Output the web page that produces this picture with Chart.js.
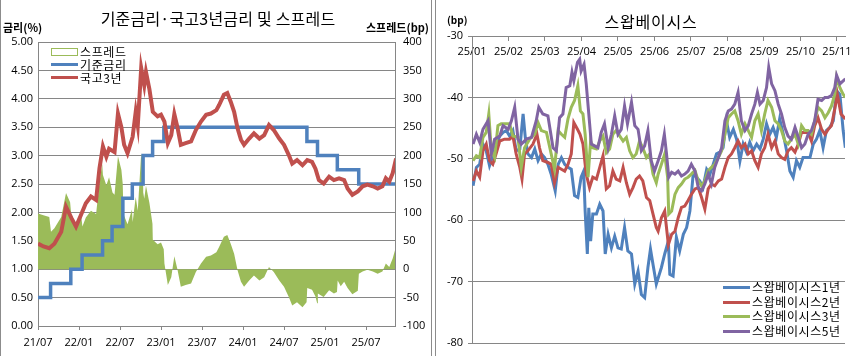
<!DOCTYPE html>
<html><head><meta charset="utf-8">
<script src="https://cdn.jsdelivr.net/npm/chart.js@4.4.0/dist/chart.umd.min.js"></script>
<style>
html,body{margin:0;padding:0;background:#fff}
body{width:867px;height:356px;overflow:hidden;position:relative;font-family:"Noto Sans CJK KR",sans-serif;color:#000}
canvas{position:absolute;top:0}
#c1{left:0}
#c2{left:436px}
.t{position:absolute;line-height:1;white-space:nowrap;transform:translateY(-50%)}
.tc{position:absolute;line-height:1;white-space:nowrap;transform:translate(-50%,-50%)}
.sw{position:absolute}
.vl{position:absolute;top:0;width:1px;height:356px;background:#8c8c8c}
.lg{font-size:12px;letter-spacing:0.6px}
</style></head><body>
<canvas id="c1" width="430" height="356"></canvas>
<canvas id="c2" width="431" height="356"></canvas>

<div class="vl" style="left:0"></div>
<div class="vl" style="left:431px"></div>
<div class="vl" style="left:435px"></div>

<div class="tc" style="left:218px;top:18px;font-size:16px;letter-spacing:0.2px">기준금리·국고3년금리 및 스프레드</div>
<div class="t" style="left:3px;top:27px;font-size:11px;font-weight:bold">금리(%)</div>
<div class="t" style="left:366px;top:27px;font-size:11px;font-weight:bold">스프레드(bp)</div>

<div class="sw" style="left:51px;top:48px;width:25px;height:6px;border:1px solid #9BBB59;background:#fff"></div>
<div class="t lg" style="left:80px;top:52px">스프레드</div>
<div class="sw" style="left:51px;top:63px;width:27px;height:3px;background:#4F81BD"></div>
<div class="t lg" style="left:80px;top:65px">기준금리</div>
<div class="sw" style="left:51px;top:76px;width:27px;height:3px;background:#C0504D"></div>
<div class="t lg" style="left:80px;top:78px">국고3년</div>

<div class="tc" style="left:651px;top:21px;font-size:16px;letter-spacing:0.8px">스왑베이시스</div>
<div class="t" style="left:447px;top:20px;font-size:10px;font-weight:bold">(bp)</div>

<div class="sw" style="left:723px;top:286px;width:27px;height:3px;background:#4F81BD"></div>
<div class="t lg" style="left:752px;top:287px">스왑베이시스1년</div>
<div class="sw" style="left:723px;top:301px;width:27px;height:3px;background:#C0504D"></div>
<div class="t lg" style="left:752px;top:302px">스왑베이시스2년</div>
<div class="sw" style="left:723px;top:315px;width:27px;height:3px;background:#9BBB59"></div>
<div class="t lg" style="left:752px;top:316px">스왑베이시스3년</div>
<div class="sw" style="left:723px;top:330px;width:27px;height:3px;background:#8064A2"></div>
<div class="t lg" style="left:752px;top:331px">스왑베이시스5년</div>

<script>
// ---- Left chart: months since 2021/07 ----
const leftXTickLabels = ['21/07','22/01','22/07','23/01','23/07','24/01','24/07','25/01','25/07'];

const ktb3Dates = [0.0,0.8,1.65,2.4,3.4,4.1,4.9,5.56,6.3,7.0,7.75,8.5,9.0,9.5,10.0,10.4,11.2,11.7,12.2,12.6,13.1,13.85,14.3,14.6,15.1,15.55,15.8,16.3,16.8,17.5,18.0,18.5,19.0,19.5,19.95,20.4,20.9,21.6,22.4,23.1,23.85,24.6,25.3,26.1,26.5,27.2,27.7,28.2,28.7,29.2,29.7,30.15,30.9,31.6,32.4,33.1,33.8,34.5,35.3,36.0,36.7,37.2,37.9,38.7,39.4,40.1,40.6,41.1,41.8,42.6,43.3,44.05,44.8,45.3,46.0,46.8,47.5,48.2,49.0,49.7,50.4,50.9,51.4,51.9,52.4];
const ktb3Values = [1.45,1.40,1.37,1.45,1.66,2.10,1.90,1.75,1.96,2.16,2.28,2.22,2.78,3.16,2.98,3.12,3.06,3.74,3.50,3.19,3.04,3.33,3.77,3.53,4.54,4.24,4.47,4.17,3.77,3.69,3.72,3.60,3.22,3.36,3.73,3.50,3.19,3.22,3.25,3.45,3.60,3.72,3.74,3.80,3.89,4.07,4.10,3.95,3.77,3.48,3.28,3.19,3.30,3.39,3.30,3.36,3.54,3.45,3.30,3.19,3.01,2.86,2.92,2.83,2.92,2.89,2.77,2.57,2.51,2.63,2.57,2.60,2.57,2.42,2.31,2.37,2.46,2.49,2.46,2.42,2.46,2.60,2.54,2.69,2.95];

const baseRateDates = [0,1.84,4.8,6.45,9.45,10.84,12.42,13.8,15.38,16.77,18.42,39.35,40.9,43.8,46.93,52.4];
const baseRateValues = [0.50,0.75,1.00,1.25,1.50,1.75,2.25,2.50,3.00,3.25,3.50,3.25,3.00,2.75,2.50,2.50];

const spreadDates = [0.0,0.8,1.65,1.9,2.4,3.4,4.1,4.7,4.9,5.56,6.3,6.5,7.0,7.75,8.5,9.0,9.4,9.5,10.0,10.4,10.9,11.2,11.7,12.2,12.4,12.5,12.6,13.1,13.75,13.85,14.3,14.6,15.1,15.35,15.4,15.55,15.8,16.3,16.75,16.8,17.5,18.0,18.4,18.5,19.0,19.5,19.95,20.4,20.9,21.6,22.4,23.1,23.85,24.6,25.3,26.1,26.5,27.2,27.7,28.2,28.7,29.2,29.7,30.15,30.9,31.6,32.4,33.1,33.8,34.5,35.3,36.0,36.7,37.2,37.9,38.7,39.3,39.4,40.1,40.6,40.85,40.95,41.8,42.6,43.3,43.75,43.85,44.3,44.8,45.3,46.0,46.8,46.95,47.5,48.2,49.0,49.7,50.4,50.9,51.4,51.9,52.4];
const spreadValues = [98,95,92,66,72,92,134,118,90,76,96,75,91,103,97,153,185,166,148,162,135,131,199,175,150,100,94,79,105,83,127,103,204,185,135,124,147,117,80,52,44,47,35,10,-28,-14,23,0,-31,-28,-25,-5,10,22,24,30,39,57,60,45,27,-2,-22,-31,-20,-11,-20,-14,4,-5,-20,-31,-49,-64,-58,-67,-58,-33,-36,-48,-60,-43,-49,-37,-43,-40,-20,-30,-22,-33,-44,-38,-8,-4,-1,-4,-8,-4,10,4,19,40];

// ---- Right chart: months since 2025/01 ----
const rightXTickLabels = ['25/01','25/02','25/03','25/04','25/05','25/06','25/07','25/08','25/09','25/10','25/11'];

const basis1y = [[0.03,-54.4],[0.12,-51.4],[0.21,-50.9],[0.30,-47.6],[0.39,-48.7],[0.48,-51.1],[0.57,-49.5],[0.67,-47.6],[0.76,-46.3],[0.85,-45.7],[0.94,-45.4],[1.03,-46.3],[1.12,-45.4],[1.21,-48.7],[1.31,-48.4],[1.40,-42.7],[1.46,-46.5],[1.53,-49.2],[1.63,-49.8],[1.72,-48.4],[1.81,-50.3],[1.90,-49.2],[1.99,-49.8],[2.08,-50.9],[2.17,-52.5],[2.28,-55.2],[2.36,-50.9],[2.45,-49.8],[2.54,-50.9],[2.63,-51.4],[2.72,-51.7],[2.81,-56.0],[2.90,-56.3],[2.99,-53.0],[3.06,-52.0],[3.10,-58.5],[3.16,-65.5],[3.20,-58.0],[3.25,-63.4],[3.31,-59.0],[3.41,-59.0],[3.50,-57.4],[3.59,-58.5],[3.65,-65.5],[3.73,-62.3],[3.82,-64.5],[3.91,-62.6],[4.00,-64.5],[4.09,-64.7],[4.18,-61.2],[4.27,-65.0],[4.37,-65.5],[4.46,-70.4],[4.55,-68.3],[4.64,-72.1],[4.73,-72.6],[4.82,-67.7],[4.89,-64.7],[4.96,-67.2],[5.05,-70.4],[5.19,-67.7],[5.28,-65.5],[5.38,-63.4],[5.42,-68.8],[5.51,-69.1],[5.60,-62.8],[5.69,-65.0],[5.79,-62.3],[5.88,-61.2],[5.97,-58.5],[6.06,-52.5],[6.15,-53.0],[6.24,-53.6],[6.33,-54.7],[6.43,-51.7],[6.52,-52.5],[6.61,-50.9],[6.70,-49.2],[6.79,-48.9],[6.88,-48.2],[6.97,-43.8],[7.06,-46.5],[7.16,-45.2],[7.25,-46.8],[7.34,-50.4],[7.43,-47.6],[7.52,-48.9],[7.61,-47.3],[7.70,-48.7],[7.80,-47.6],[7.89,-48.4],[7.98,-46.8],[8.07,-44.3],[8.16,-46.0],[8.25,-44.9],[8.34,-46.5],[8.43,-43.5],[8.53,-46.0],[8.62,-48.7],[8.71,-52.0],[8.80,-53.0],[8.89,-50.3],[8.98,-51.4],[9.07,-49.8],[9.17,-49.8],[9.26,-49.8],[9.35,-47.6],[9.44,-46.8],[9.53,-45.4],[9.62,-48.2],[9.71,-45.4],[9.80,-44.9],[9.90,-43.8],[9.99,-38.9],[10.08,-39.5],[10.17,-45.4],[10.23,-48.2]];

const basis2y = [[0.03,-53.6],[0.12,-52.0],[0.21,-53.0],[0.30,-48.7],[0.39,-47.6],[0.48,-50.3],[0.57,-50.9],[0.67,-49.0],[0.76,-47.1],[0.89,-46.8],[1.03,-46.8],[1.12,-46.3],[1.21,-49.2],[1.31,-51.4],[1.37,-53.3],[1.44,-49.2],[1.53,-48.7],[1.67,-47.6],[1.78,-46.0],[1.85,-48.2],[1.94,-50.3],[2.08,-50.6],[2.17,-50.9],[2.26,-53.9],[2.36,-51.4],[2.45,-51.7],[2.54,-52.0],[2.63,-50.9],[2.72,-49.2],[2.79,-44.1],[2.89,-45.2],[2.96,-46.0],[3.04,-47.6],[3.13,-52.5],[3.22,-54.7],[3.31,-53.0],[3.41,-53.3],[3.50,-51.4],[3.59,-49.5],[3.68,-54.9],[3.77,-54.4],[3.86,-52.0],[3.95,-53.3],[4.05,-53.6],[4.14,-51.4],[4.23,-53.9],[4.32,-55.8],[4.41,-54.7],[4.50,-53.3],[4.59,-52.8],[4.68,-53.6],[4.78,-56.3],[4.87,-56.8],[4.96,-59.0],[5.05,-61.2],[5.10,-61.8],[5.19,-59.6],[5.28,-58.5],[5.38,-64.0],[5.47,-62.3],[5.56,-61.8],[5.65,-59.6],[5.74,-57.9],[5.83,-57.7],[5.92,-56.8],[6.01,-55.8],[6.11,-54.9],[6.20,-54.7],[6.29,-56.3],[6.38,-58.2],[6.47,-54.9],[6.56,-54.1],[6.65,-54.4],[6.75,-53.6],[6.84,-53.3],[6.93,-51.4],[7.02,-49.8],[7.11,-49.2],[7.20,-48.2],[7.29,-47.1],[7.38,-48.2],[7.48,-47.6],[7.57,-49.2],[7.66,-48.7],[7.75,-50.3],[7.84,-51.4],[7.93,-49.2],[8.02,-48.2],[8.11,-46.0],[8.21,-48.2],[8.30,-47.1],[8.39,-49.2],[8.48,-49.8],[8.57,-50.1],[8.66,-48.7],[8.75,-48.2],[8.85,-48.9],[8.94,-47.6],[9.03,-45.7],[9.12,-45.7],[9.21,-45.7],[9.30,-47.1],[9.39,-44.6],[9.48,-43.3],[9.58,-45.2],[9.67,-46.0],[9.76,-45.2],[9.85,-44.6],[9.94,-41.9],[10.01,-39.5],[10.11,-42.7],[10.23,-43.5]];

const basis3y = [[0.03,-50.3],[0.12,-49.5],[0.21,-49.8],[0.30,-46.5],[0.39,-45.7],[0.46,-42.7],[0.53,-48.7],[0.62,-49.8],[0.71,-44.6],[0.80,-44.3],[0.94,-44.3],[1.03,-44.3],[1.12,-46.3],[1.26,-46.5],[1.35,-51.4],[1.44,-48.2],[1.58,-46.8],[1.72,-46.0],[1.81,-44.1],[1.90,-45.4],[2.04,-45.7],[2.17,-49.2],[2.26,-51.7],[2.36,-45.4],[2.45,-46.0],[2.54,-46.5],[2.63,-43.5],[2.72,-41.6],[2.81,-40.5],[2.90,-38.1],[2.97,-42.2],[3.04,-42.7],[3.10,-46.0],[3.18,-53.0],[3.25,-47.1],[3.31,-48.2],[3.41,-48.4],[3.50,-47.1],[3.59,-46.3],[3.68,-49.0],[3.77,-48.4],[3.86,-46.0],[3.95,-45.4],[4.05,-46.3],[4.14,-47.1],[4.23,-46.5],[4.32,-48.7],[4.41,-49.8],[4.50,-49.2],[4.59,-47.1],[4.68,-48.2],[4.78,-49.8],[4.87,-49.2],[4.96,-52.5],[5.05,-53.9],[5.10,-52.5],[5.19,-50.9],[5.28,-49.2],[5.36,-53.0],[5.39,-59.0],[5.47,-58.5],[5.56,-55.8],[5.65,-54.7],[5.74,-54.1],[5.83,-53.3],[5.92,-53.0],[6.01,-52.5],[6.11,-51.9],[6.20,-53.6],[6.29,-54.4],[6.38,-53.6],[6.47,-51.9],[6.56,-51.4],[6.65,-50.9],[6.75,-49.8],[6.84,-48.7],[6.93,-46.0],[7.02,-43.3],[7.11,-42.7],[7.20,-42.2],[7.29,-43.8],[7.38,-46.0],[7.48,-44.3],[7.57,-45.4],[7.66,-46.5],[7.75,-43.8],[7.84,-42.7],[7.93,-45.4],[8.02,-42.7],[8.11,-40.5],[8.21,-41.6],[8.30,-43.8],[8.39,-44.3],[8.48,-45.4],[8.57,-47.1],[8.66,-47.6],[8.75,-46.8],[8.85,-46.0],[8.94,-47.6],[9.03,-44.6],[9.12,-45.4],[9.21,-45.4],[9.30,-46.0],[9.39,-43.8],[9.48,-41.6],[9.58,-42.2],[9.67,-43.3],[9.76,-42.5],[9.85,-41.4],[9.94,-39.5],[9.99,-36.7],[10.08,-38.4],[10.17,-39.5],[10.23,-40.0]];

const basis5y = [[0.03,-47.6],[0.12,-46.0],[0.21,-47.3],[0.30,-45.2],[0.44,-43.8],[0.53,-49.2],[0.62,-46.8],[0.76,-46.3],[0.85,-44.6],[0.99,-45.2],[1.08,-43.8],[1.17,-41.6],[1.26,-46.8],[1.35,-47.6],[1.49,-46.8],[1.63,-46.5],[1.76,-43.8],[1.83,-41.6],[1.94,-42.7],[2.08,-43.0],[2.22,-48.2],[2.31,-48.7],[2.40,-43.3],[2.49,-42.7],[2.58,-38.4],[2.68,-38.1],[2.74,-35.9],[2.79,-37.3],[2.89,-34.3],[2.95,-33.8],[2.99,-35.7],[3.07,-34.6],[3.13,-37.8],[3.20,-42.7],[3.27,-47.6],[3.36,-47.9],[3.45,-48.2],[3.54,-45.7],[3.63,-44.3],[3.73,-48.2],[3.82,-46.0],[3.91,-43.0],[4.00,-46.0],[4.09,-45.2],[4.18,-41.4],[4.26,-44.3],[4.37,-40.8],[4.46,-44.6],[4.55,-45.2],[4.64,-48.7],[4.73,-47.9],[4.82,-45.4],[4.91,-50.3],[5.00,-52.0],[5.10,-50.3],[5.19,-48.7],[5.27,-46.0],[5.33,-49.2],[5.39,-53.0],[5.47,-52.2],[5.56,-52.5],[5.65,-52.0],[5.74,-52.8],[5.83,-52.5],[5.92,-52.0],[6.01,-50.9],[6.11,-52.0],[6.20,-54.7],[6.29,-55.2],[6.38,-54.1],[6.47,-52.5],[6.56,-54.1],[6.65,-51.4],[6.75,-49.8],[6.84,-48.2],[6.93,-43.8],[7.02,-42.2],[7.11,-41.9],[7.20,-41.1],[7.29,-39.2],[7.38,-43.8],[7.48,-45.4],[7.57,-44.6],[7.66,-42.7],[7.75,-41.1],[7.82,-39.2],[7.89,-41.1],[7.98,-40.5],[8.07,-38.4],[8.13,-35.1],[8.21,-37.8],[8.30,-38.9],[8.39,-41.1],[8.48,-42.7],[8.57,-44.9],[8.66,-46.3],[8.75,-46.8],[8.85,-44.9],[8.94,-46.5],[9.03,-48.2],[9.12,-47.6],[9.21,-46.0],[9.30,-45.4],[9.39,-43.8],[9.48,-40.3],[9.58,-40.5],[9.67,-40.0],[9.76,-40.0],[9.85,-39.7],[9.94,-38.4],[9.99,-36.4],[10.08,-37.8],[10.17,-37.3],[10.23,-37.0]];

const GRID = '#868686';
const TICKFONT = {family:'"Open Sans", sans-serif', size:11};
Chart.defaults.color = '#000';

const pts = (xs, ys) => xs.map((x, i) => ({x, y: ys[i]}));
const pairPts = arr => arr.map(p => ({x: p[0], y: p[1]}));

new Chart(document.getElementById('c1'), {
  type: 'line',
  data: { datasets: [
    {label:'국고3년', data: pts(ktb3Dates, ktb3Values), yAxisID:'y', borderColor:'#C0504D', borderWidth:4, pointRadius:0, tension:0, fill:false, order:0},
    {label:'기준금리', data: pts(baseRateDates, baseRateValues), yAxisID:'y', borderColor:'#4F81BD', borderWidth:3.5, pointRadius:0, stepped:'before', fill:false, order:1},
    {label:'스프레드', data: pts(spreadDates, spreadValues), yAxisID:'y1', borderWidth:0, borderColor:'rgba(0,0,0,0)', backgroundColor:'#9BBB59', fill:'origin', pointRadius:0, tension:0, order:2}
  ]},
  options: {
    responsive:false, animation:false, events:[],
    plugins:{legend:{display:false}, tooltip:{enabled:false}, title:{display:false}},
    layout:{padding:{top:42,left:0,right:0,bottom:0}},
    scales:{
      x:{type:'linear', min:0, max:52.24,
        afterBuildTicks: s => { s.ticks = leftXTickLabels.map((_, i) => ({value: i*6})); },
        afterFit: s => { s.height = 30; },
        ticks:{font:TICKFONT, color:'#000', padding:6, maxRotation:0, autoSkip:false,
          callback: v => leftXTickLabels[Math.round(v/6)]},
        grid:{drawOnChartArea:false, drawTicks:true, tickLength:4, color:GRID},
        border:{color:GRID}},
      y:{min:0, max:5,
        afterFit: s => { s.width = 38; },
        ticks:{stepSize:0.5, font:TICKFONT, color:'#000', padding:5, callback: v => v.toFixed(2)},
        grid:{color:GRID, drawTicks:false},
        border:{color:GRID}},
      y1:{position:'right', min:-100, max:400,
        afterFit: s => { s.width = 35; },
        ticks:{stepSize:50, font:TICKFONT, color:'#000', padding:8},
        grid:{drawOnChartArea:false, drawTicks:false},
        border:{color:GRID}}
    }
  }
});

new Chart(document.getElementById('c2'), {
  type: 'line',
  data: { datasets: [
    {label:'스왑베이시스5년', data: pairPts(basis5y), borderColor:'#8064A2', borderWidth:3, pointRadius:0, tension:0, fill:false, order:0},
    {label:'스왑베이시스3년', data: pairPts(basis3y), borderColor:'#9BBB59', borderWidth:3, pointRadius:0, tension:0, fill:false, order:1},
    {label:'스왑베이시스2년', data: pairPts(basis2y), borderColor:'#C0504D', borderWidth:3, pointRadius:0, tension:0, fill:false, order:2},
    {label:'스왑베이시스1년', data: pairPts(basis1y), borderColor:'#4F81BD', borderWidth:3, pointRadius:0, tension:0, fill:false, order:3}
  ]},
  options: {
    responsive:false, animation:false, events:[],
    plugins:{legend:{display:false}, tooltip:{enabled:false}, title:{display:false}},
    layout:{padding:{top:36,left:0,right:22,bottom:13}},
    scales:{
      x:{type:'linear', min:0, max:10.22, position:{y:-30},
        afterBuildTicks: s => { s.ticks = rightXTickLabels.map((_, i) => ({value: i})); },
        ticks:{font:TICKFONT, color:'#000', padding:5, maxRotation:0, autoSkip:false,
          callback: v => rightXTickLabels[Math.round(v)]},
        grid:{drawOnChartArea:false, drawTicks:true, tickLength:4, color:GRID},
        border:{color:GRID}},
      y:{min:-80, max:-30,
        afterFit: s => { s.width = 36; },
        ticks:{stepSize:10, font:TICKFONT, color:'#000', padding:5},
        grid:{color:GRID, drawTicks:true, tickLength:4},
        border:{color:GRID}}
    }
  }
});
</script>
</body></html>
